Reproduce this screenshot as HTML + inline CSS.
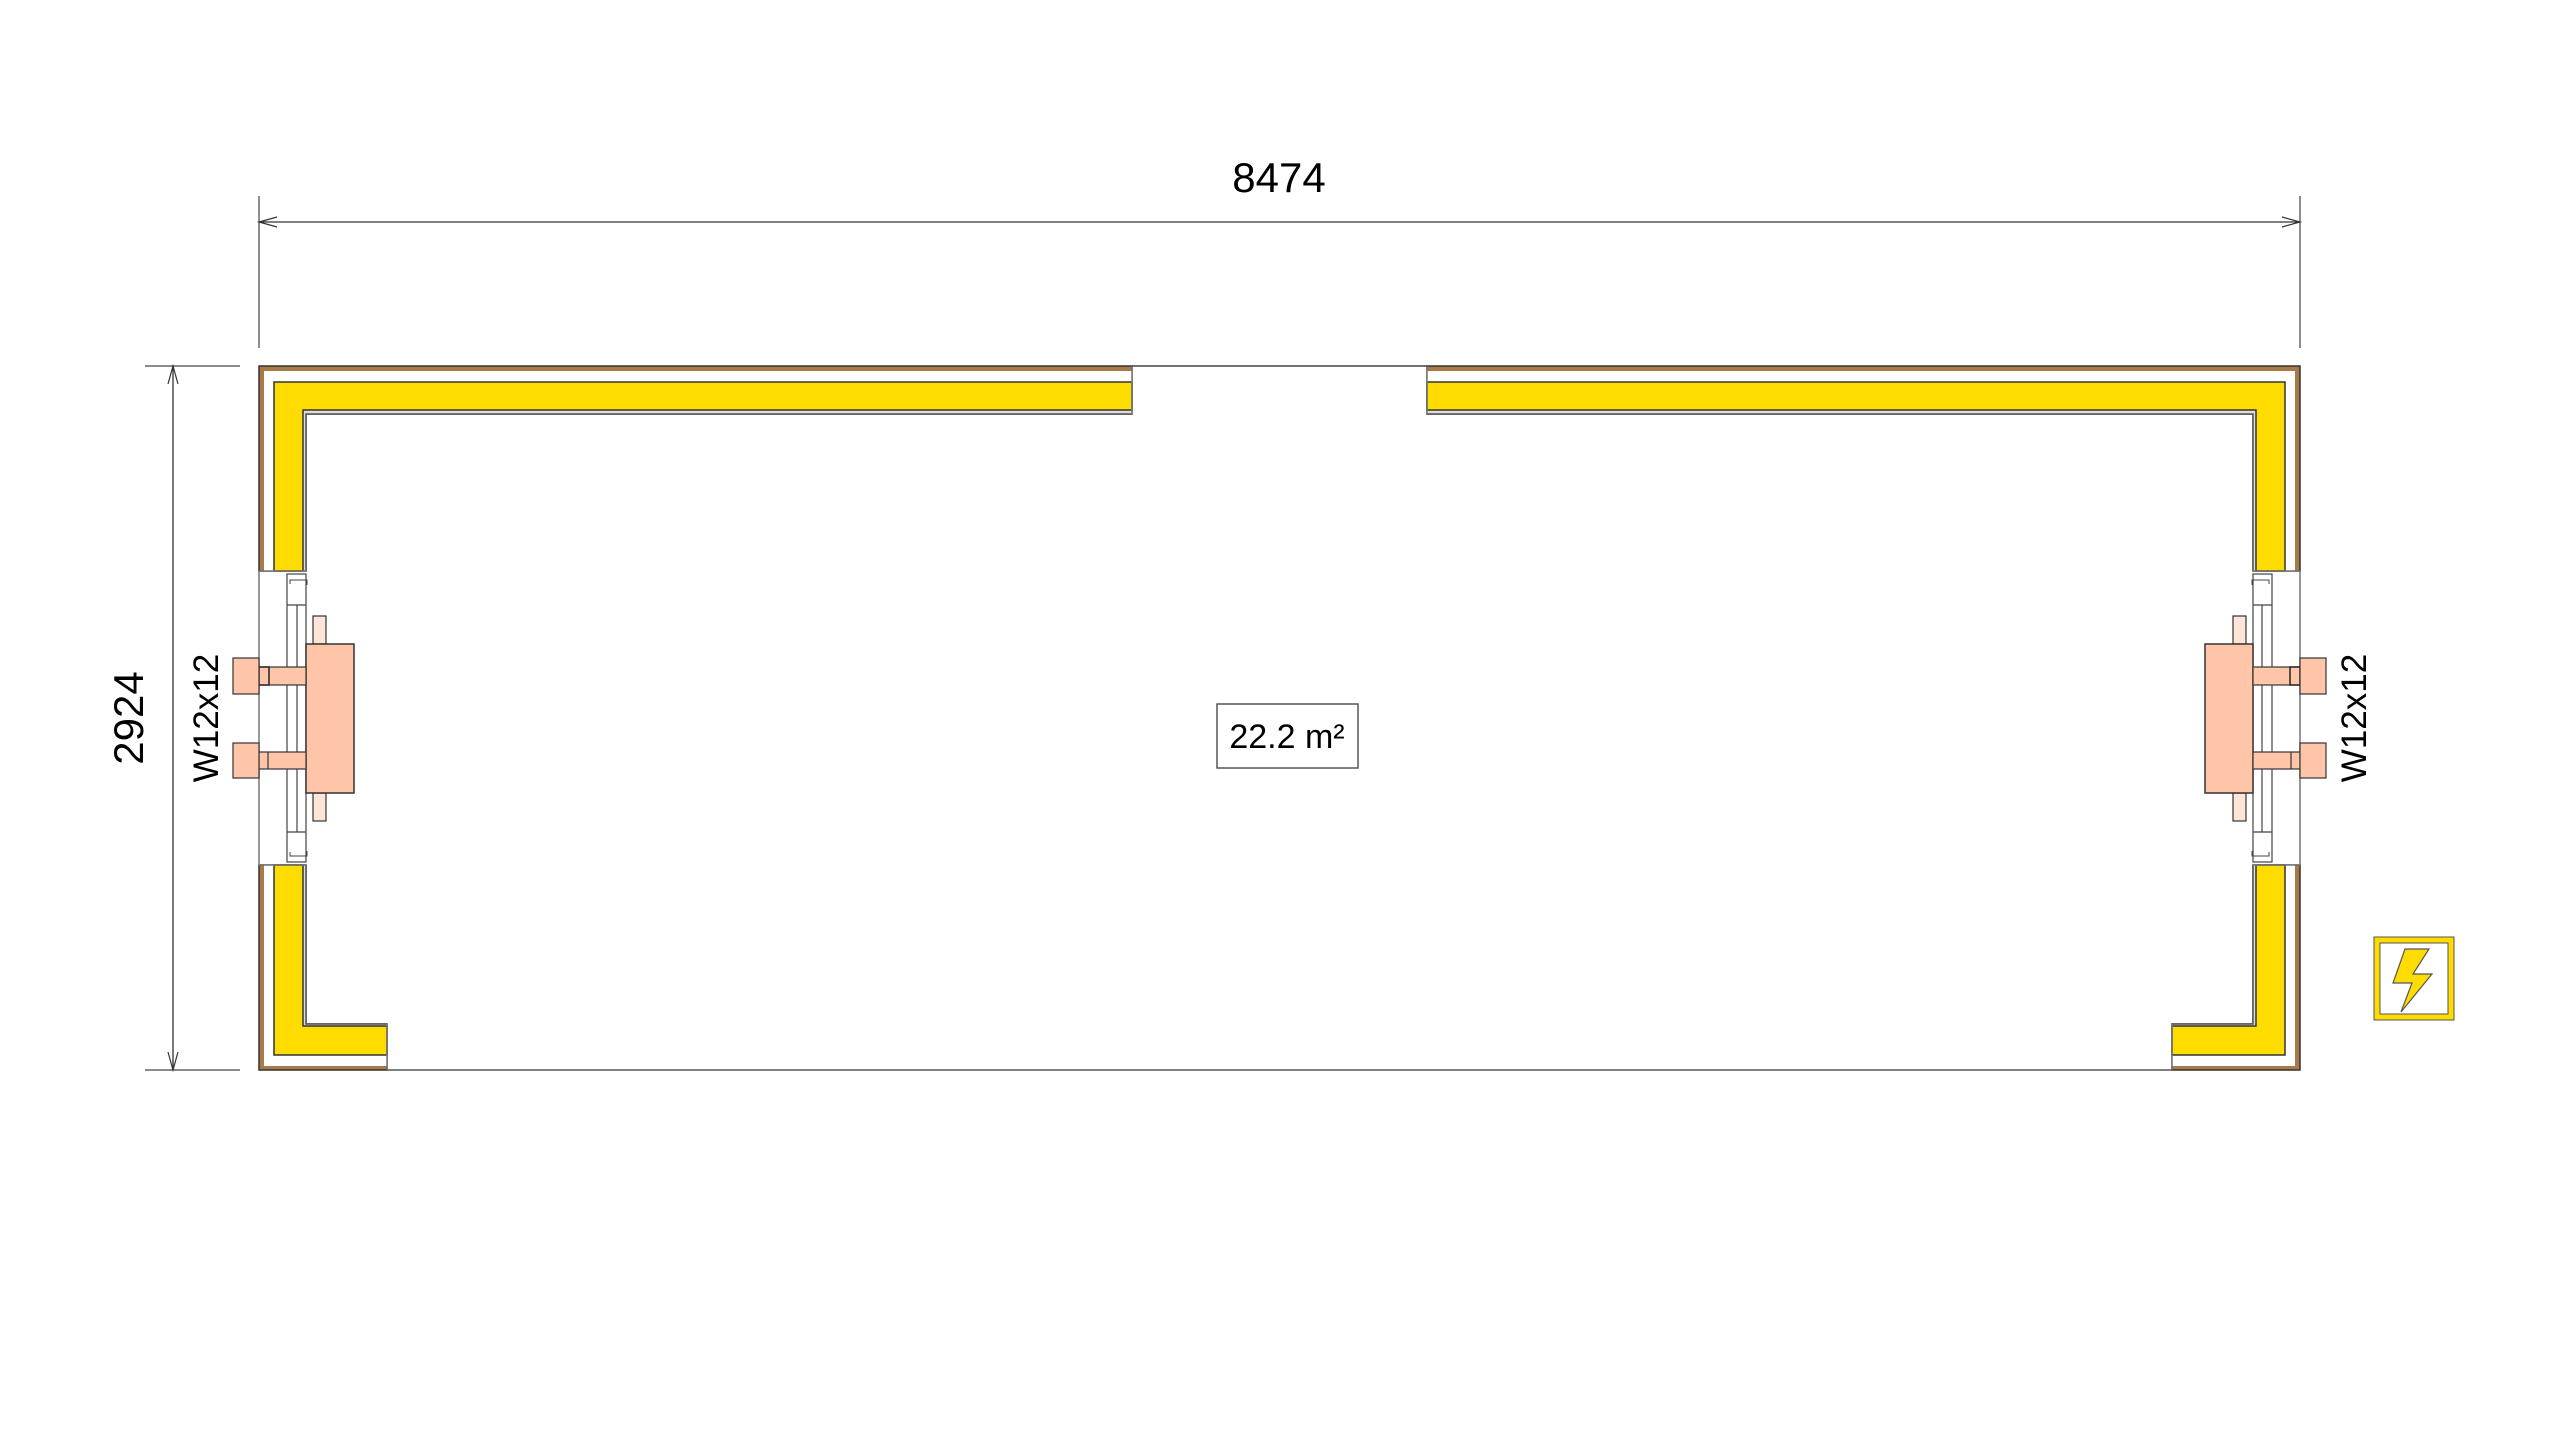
<!DOCTYPE html>
<html><head><meta charset="utf-8"><style>html,body{margin:0;padding:0;background:#fff}svg{display:block}</style></head>
<body>
<svg width="2560" height="1432" viewBox="0 0 2560 1432" xmlns="http://www.w3.org/2000/svg" font-family="Liberation Sans, sans-serif">
<defs>
<g id="half">
  <polygon points="259,366 1132,366 1132,414 306,414 306,571 259,571" fill="#a87a4a" stroke="#333" stroke-width="1.5"/>
  <polygon points="264,371 1132,371 1132,414 306,414 306,571 264,571" fill="#fff"/>
  <polygon points="303,410 1132,410 1132,414 306,414 306,571 303,571" fill="#ddd"/>
  <polygon points="274,382 1132,382 1132,410 303,410 303,571 274,571" fill="#ffdc00" stroke="#333" stroke-width="1.5"/>
  <polyline points="1132,414 306,414 306,571" fill="none" stroke="#555" stroke-width="1.5"/>
  <line x1="1132" y1="366" x2="1132" y2="414" stroke="#777" stroke-width="1.5"/>
  <polygon points="259,865 306,865 306,1024 387,1024 387,1070 259,1070" fill="#a87a4a" stroke="#333" stroke-width="1.5"/>
  <polygon points="264,865 306,865 306,1024 387,1024 387,1066 264,1066" fill="#fff"/>
  <polygon points="303,865 306,865 306,1024 387,1024 387,1026 303,1026" fill="#ddd"/>
  <polygon points="274,865 303,865 303,1026 387,1026 387,1055 274,1055" fill="#ffdc00" stroke="#333" stroke-width="1.5"/>
  <polyline points="306,865 306,1024 387,1024" fill="none" stroke="#555" stroke-width="1.5"/>
  <line x1="387" y1="1024" x2="387" y2="1070" stroke="#777" stroke-width="1.5"/>
  <line x1="259" y1="571" x2="259" y2="865" stroke="#777" stroke-width="1.5"/>
  <line x1="259" y1="571" x2="306" y2="571" stroke="#777" stroke-width="1.5"/>
  <line x1="259" y1="865" x2="306" y2="865" stroke="#777" stroke-width="1.5"/>
  <rect x="287" y="574" width="19" height="288" fill="#fff" stroke="#444" stroke-width="1.2"/>
  <line x1="287" y1="605" x2="306" y2="605" stroke="#444" stroke-width="1.2"/>
  <line x1="287" y1="832" x2="306" y2="832" stroke="#444" stroke-width="1.2"/>
  <line x1="297" y1="605" x2="297" y2="832" stroke="#444" stroke-width="1.2"/>
  <polyline points="290,584 290,580 307,580 307,585" fill="none" stroke="#444" stroke-width="1"/>
  <polyline points="290,852 290,856 307,856 307,851" fill="none" stroke="#444" stroke-width="1"/>
  <rect x="313" y="616" width="13" height="28" fill="#ffe4d8" stroke="#333" stroke-width="1.2"/>
  <rect x="313" y="793" width="13" height="28" fill="#ffe4d8" stroke="#333" stroke-width="1.2"/>
  <rect x="306" y="644" width="48" height="149" fill="#ffc5a8" stroke="#333" stroke-width="1.5"/>
  <rect x="259" y="667" width="47" height="18" fill="#ffc5a8" stroke="#333" stroke-width="1.2"/>
  <rect x="259" y="667" width="10" height="18" fill="#ffc5a8" stroke="#222" stroke-width="1.5"/>
  <rect x="259" y="752" width="47" height="17" fill="#ffc5a8" stroke="#333" stroke-width="1.2"/>
  <line x1="268" y1="752" x2="268" y2="769" stroke="#333" stroke-width="1.2"/>
  <rect x="233" y="658" width="26" height="36" fill="#ffc5a8" stroke="#333" stroke-width="1.2"/>
  <rect x="233" y="743" width="26" height="35" fill="#ffc5a8" stroke="#333" stroke-width="1.2"/>
</g>
</defs>
<use href="#half"/>
<use href="#half" transform="matrix(-1 0 0 1 2559 0)"/>
<line x1="1132" y1="366" x2="1427" y2="366" stroke="#444" stroke-width="1.5"/>
<line x1="387" y1="1070" x2="2172" y2="1070" stroke="#555" stroke-width="1.5"/>
<line x1="259" y1="196" x2="259" y2="348" stroke="#444" stroke-width="1.2"/>
<line x1="2300" y1="196" x2="2300" y2="348" stroke="#444" stroke-width="1.2"/>
<line x1="259" y1="222" x2="2300" y2="222" stroke="#333" stroke-width="1.3"/>
<polyline points="277,217 259,222 277,227" fill="none" stroke="#333" stroke-width="1.2"/>
<polyline points="2282,217 2300,222 2282,227" fill="none" stroke="#333" stroke-width="1.2"/>
<text x="1279" y="192" font-size="42" text-anchor="middle" fill="#000">8474</text>
<line x1="145" y1="366" x2="240" y2="366" stroke="#444" stroke-width="1.2"/>
<line x1="145" y1="1070" x2="240" y2="1070" stroke="#444" stroke-width="1.2"/>
<line x1="173" y1="366" x2="173" y2="1070" stroke="#333" stroke-width="1.3"/>
<polyline points="168,384 173,366 178,384" fill="none" stroke="#333" stroke-width="1.2"/>
<polyline points="168,1052 173,1070 178,1052" fill="none" stroke="#333" stroke-width="1.2"/>
<text transform="translate(143,718) rotate(-90)" font-size="42" text-anchor="middle" fill="#000">2924</text>
<text transform="translate(218,718) rotate(-90)" font-size="35" text-anchor="middle" fill="#000">W12x12</text>
<text transform="translate(2366,718) rotate(-90)" font-size="35" text-anchor="middle" fill="#000">W12x12</text>
<rect x="1217" y="704" width="141" height="64" fill="#fff" stroke="#555" stroke-width="1.5"/>
<text x="1287" y="748" font-size="34" text-anchor="middle" fill="#000">22.2 m²</text>
<rect x="2374" y="937" width="80" height="83" fill="#ffdc00" stroke="#555" stroke-width="1"/>
<rect x="2380" y="943" width="68" height="71" fill="#fff" stroke="#555" stroke-width="1"/>
<polygon points="2405,949 2429,949 2413,974 2432,974 2401,1012 2412,983 2393,983" fill="#ffdc00" stroke="#555" stroke-width="1.2"/>
</svg>
</body></html>
